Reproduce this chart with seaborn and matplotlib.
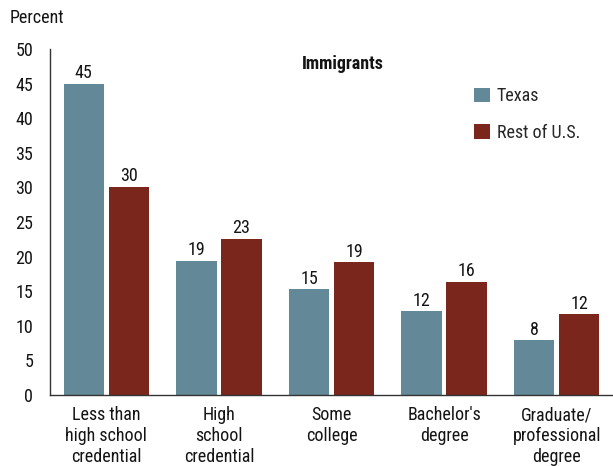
import matplotlib
matplotlib.use("Agg")
import matplotlib.pyplot as plt
import seaborn as sns
import pandas as pd
from matplotlib import font_manager
from matplotlib.patches import Patch

categories = ["Less than\nhigh school\ncredential", "High\nschool\ncredential",
              "Some\ncollege", "Bachelor's\ndegree", "Graduate/\nprofessional\ndegree"]
texas = [45.0, 19.4, 15.3, 12.1, 7.9]
rest_us = [30.1, 22.6, 19.2, 16.4, 11.7]
series_names = ["Texas", "Rest of U.S."]
colors = ["#638898", "#7A261C"]
y_ticks = [0, 5, 10, 15, 20, 25, 30, 35, 40, 45, 50]

sns.set_theme(style="white")
names = {f.name for f in font_manager.fontManager.ttflist}
fam = [f for f in ["Liberation Sans Narrow", "Roboto Condensed", "Liberation Sans"] if f in names] + ["DejaVu Sans"]
plt.rcParams["font.family"] = fam
FS = 13

df = pd.DataFrame({
    "category": categories * 2,
    "value": texas + rest_us,
    "series": [series_names[0]] * len(categories) + [series_names[1]] * len(categories),
})

fig = plt.figure(figsize=(6.13, 4.66), dpi=100)
ax = fig.add_axes([50 / 613, 71 / 466, 1 - 50 / 613, (395 - 49) / 466])

sns.barplot(data=df, x="category", y="value", hue="series", palette=colors,
            width=0.8, gap=0.1, saturation=1, ax=ax, legend=False, linewidth=0)

for cont in ax.containers:
    ax.bar_label(cont, fmt="%.0f", fontsize=FS, padding=1, color="#141414")

ax.set_ylim(0, 50)
ax.set_xlim(-0.5, 4.5)
ax.set_yticks(y_ticks)
ax.set_yticklabels([str(t) for t in y_ticks], fontsize=FS, color="#141414")
ax.set_xticks(range(len(categories)))
ax.set_xticklabels(categories, fontsize=FS, color="#141414", linespacing=1.2)
ax.set_xticks([i - 0.5 for i in range(len(categories))], minor=True)
ax.tick_params(axis="x", which="major", length=0, pad=8)
ax.tick_params(axis="x", which="minor", length=6, width=1, color="#333333", direction="out")
ax.tick_params(axis="y", length=8, width=1, color="#333333", direction="out", pad=4)
ax.set_xlabel("")
ax.set_ylabel("")
for s in ["top", "right"]:
    ax.spines[s].set_visible(False)
for s in ["left", "bottom"]:
    ax.spines[s].set_color("#333333")
    ax.spines[s].set_linewidth(1)

fig.text(10 / 613, 1 - 18 / 466, "Percent", fontsize=FS, va="center", ha="left", color="#141414")
fig.text(343 / 613, 1 - 64 / 466, "Immigrants", fontsize=FS, fontweight="bold", va="center", ha="center", color="#141414")

handles = [Patch(facecolor=c, edgecolor="none") for c in colors]
ax.legend(handles, series_names, loc="upper left", bbox_to_anchor=(467 / 613, 1 - 80 / 466),
          bbox_transform=fig.transFigure, frameon=False, fontsize=FS, borderaxespad=0,
          handlelength=0.9, handleheight=0.9, handletextpad=0.35, labelspacing=1.05)

fig.savefig("out.png", dpi=100)
